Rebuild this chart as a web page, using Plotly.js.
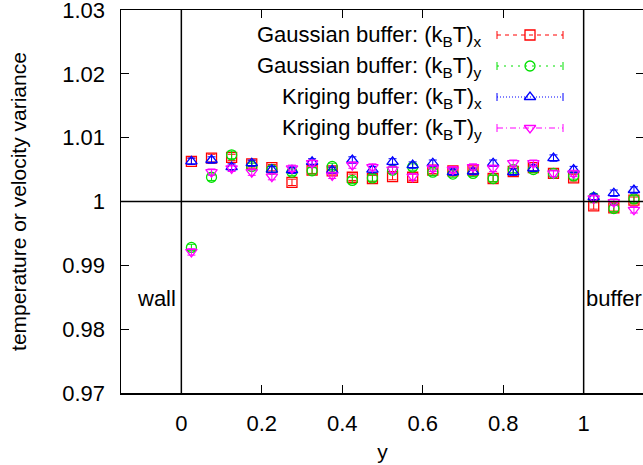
<!DOCTYPE html>
<html>
<head>
<meta charset="utf-8">
<script src="https://cdn.plot.ly/plotly-3.0.1.min.js"></script>
<style>
html,body{margin:0;padding:0;overflow:hidden;background:#fff;}
#chart{width:660px;height:465px;}
</style>
</head>
<body>
<div id="chart"></div>
<script>
// ---- data ----
const yPos = [0.025,0.075,0.125,0.175,0.225,0.275,0.325,0.375,0.425,0.475,0.525,0.575,0.625,0.675,0.725,0.775,0.825,0.875,0.925,0.975,1.025,1.075,1.125];
const gaussX = [1.0063,1.0068,1.0069,1.0059,1.0053,1.0030,1.0049,1.0048,1.0038,1.0036,1.0039,1.0038,1.0049,1.0048,1.0049,1.0036,1.0047,1.0053,1.0044,1.0037,0.9993,0.9990,1.0002];
const gaussY = [0.9928,1.0038,1.0073,1.0055,1.0050,1.0046,1.0048,1.0055,1.0033,1.0037,1.0049,1.0054,1.0046,1.0043,1.0044,1.0036,1.0050,1.0050,1.0044,1.0040,1.0006,0.9989,1.0004];
const krigX  = [1.0063,1.0065,1.0054,1.0060,1.0050,1.0049,1.0062,1.0049,1.0065,1.0050,1.0062,1.0057,1.0060,1.0046,1.0047,1.0060,1.0046,1.0052,1.0068,1.0050,1.0007,1.0013,1.0018];
const krigY  = [0.9921,1.0046,1.0052,1.0046,1.0039,1.0052,1.0060,1.0041,1.0057,1.0054,1.0050,1.0039,1.0052,1.0050,1.0054,1.0052,1.0060,1.0060,1.0044,1.0044,1.0005,0.9999,0.9987];
const errGX = [0.0005,0.0006,0.0005,0.0005,0.0005,0.0005,0.0005,0.0005,0.0005,0.0005,0.0005,0.0005,0.0005,0.0005,0.0005,0.0005,0.0005,0.0005,0.0005,0.0005,0.0005,0.0005,0.0005];
const errGY = [0.0005,0.0005,0.0006,0.0005,0.0005,0.0005,0.0005,0.0005,0.0005,0.0005,0.0005,0.0005,0.0005,0.0005,0.0005,0.0005,0.0005,0.0005,0.0005,0.0005,0.0005,0.0005,0.0005];
const errKX = [0.0005,0.0005,0.0005,0.0005,0.0005,0.0005,0.0005,0.0005,0.0005,0.0005,0.0005,0.0005,0.0005,0.0005,0.0005,0.0005,0.0005,0.0005,0.0005,0.0005,0.0005,0.0005,0.0005];
const errKY = [0.0005,0.0005,0.0005,0.0005,0.0005,0.0005,0.0005,0.0005,0.0005,0.0005,0.0005,0.0005,0.0005,0.0005,0.0005,0.0005,0.0005,0.0005,0.0005,0.0005,0.0005,0.0005,0.0005];
const seriesNames = ["Gaussian buffer: (k<sub>B</sub>T)<sub>x</sub>","Gaussian buffer: (k<sub>B</sub>T)<sub>y</sub>","Kriging buffer: (k<sub>B</sub>T)<sub>x</sub>","Kriging buffer: (k<sub>B</sub>T)<sub>y</sub>"];
const xTickVals = [0,0.2,0.4,0.6,0.8,1];
const xTickText = ["0","0.2","0.4","0.6","0.8","1"];
const yTickVals = [0.97,0.98,0.99,1,1.01,1.02,1.03];
const yTickText = ["0.97","0.98","0.99","1","1.01","1.02","1.03"];

// ---- styles ----
const colors = ["#ff0000","#00e000","#0000ff","#ff00ff"];
const symbols = ["square-open","circle-open","triangle-up-open","triangle-down-open"];
const dashes = ["4px,4px","2px,5px","1px,2px","6px,3px,1px,3px"];
const ys = [gaussX,gaussY,krigX,krigY];
const errs = [errGX,errGY,errKX,errKY];
const FONT = "Liberation Sans, Arial, Helvetica, sans-serif";
const FS = 22, TFS = 21;

const traces = ys.map((v,i)=>({
  type:"scatter", mode:"markers", x:yPos, y:v, name:seriesNames[i], showlegend:false,
  marker:{symbol:symbols[i], size:10, color:colors[i], line:{width:1.3,color:colors[i]}},
  error_y:{type:"data", array:errs[i], visible:true, color:colors[i], thickness:1, width:4}
}));

// legend key (layout in pixel coordinates of overlay axes)
const legRows = [35,66,97,128];
const legTextRight = 484, legL = 497, legR = 563, legMid = 530;
const shapes = [];
const annotations = [];
legRows.forEach((ry,i)=>{
  shapes.push({type:"line", xref:"x2", yref:"y2", x0:legL, x1:legR, y0:ry, y1:ry, line:{color:colors[i], width:1, dash:dashes[i]}});
  shapes.push({type:"line", xref:"x2", yref:"y2", x0:legL, x1:legL, y0:ry-4, y1:ry+4, line:{color:colors[i], width:1}});
  shapes.push({type:"line", xref:"x2", yref:"y2", x0:legR, x1:legR, y0:ry-4, y1:ry+4, line:{color:colors[i], width:1}});
  annotations.push({xref:"x2", yref:"y2", x:legTextRight, y:ry+1, xanchor:"right", yanchor:"middle", align:"right", showarrow:false,
    text:seriesNames[i], font:{family:FONT, size:FS, color:"#000"}});
  traces.push({type:"scatter", mode:"markers", xaxis:"x2", yaxis:"y2", x:[legMid], y:[ry], showlegend:false, hoverinfo:"skip",
    marker:{symbol:symbols[i], size:10, color:colors[i], line:{width:1.3,color:colors[i]}}});
});

// reference lines
shapes.push({type:"line", xref:"x", yref:"paper", x0:0, x1:0, y0:0, y1:1, line:{color:"#000", width:1.5}});
shapes.push({type:"line", xref:"x", yref:"paper", x0:1, x1:1, y0:0, y1:1, line:{color:"#000", width:1.5}});
shapes.push({type:"line", xref:"paper", yref:"y", x0:0, x1:1, y0:1, y1:1, line:{color:"#000", width:1.5}});

annotations.push({xref:"x", yref:"y", x:-0.062, y:0.9848, text:"wall", showarrow:false, xanchor:"center", yanchor:"middle", font:{family:FONT,size:FS,color:"#000"}});
annotations.push({xref:"x", yref:"y", x:1.002, y:0.9848, text:"buffer", showarrow:false, xanchor:"left", yanchor:"middle", font:{family:FONT,size:FS,color:"#000"}});

const axisCommon = {
  showgrid:false, zeroline:false, showline:true, linecolor:"#000", linewidth:1.5, mirror:"ticks",
  ticks:"inside", ticklen:8, tickwidth:1.2, tickcolor:"#000", automargin:false, ticklabeloverflow:"allow",
  tickfont:{family:FONT, size:FS, color:"#000"}, ticklabelstandoff:10
};

const layout = {
  width:660, height:465,
  margin:{l:121, r:16, t:10, b:72},
  paper_bgcolor:"#fff", plot_bgcolor:"#fff",
  font:{family:FONT, size:FS, color:"#000"},
  showlegend:false,
  xaxis:Object.assign({}, axisCommon, {range:[-0.15,1.15], tickmode:"array", tickvals:xTickVals, ticktext:xTickText,
    title:{text:"y", font:{family:FONT,size:TFS,color:"#000"}, standoff:9}}),
  yaxis:Object.assign({}, axisCommon, {range:[0.97,1.03], tickmode:"array", tickvals:yTickVals, ticktext:yTickText,
    title:{text:"temperature or velocity variance", font:{family:FONT,size:TFS,color:"#000"}, standoff:30}}),
  xaxis2:{overlaying:"x", range:[121,644], visible:false, fixedrange:true},
  yaxis2:{overlaying:"y", range:[393,10], visible:false, fixedrange:true},
  shapes:shapes, annotations:annotations
};

Plotly.newPlot("chart", traces, layout, {displayModeBar:false, staticPlot:true});
</script>
</body>
</html>
